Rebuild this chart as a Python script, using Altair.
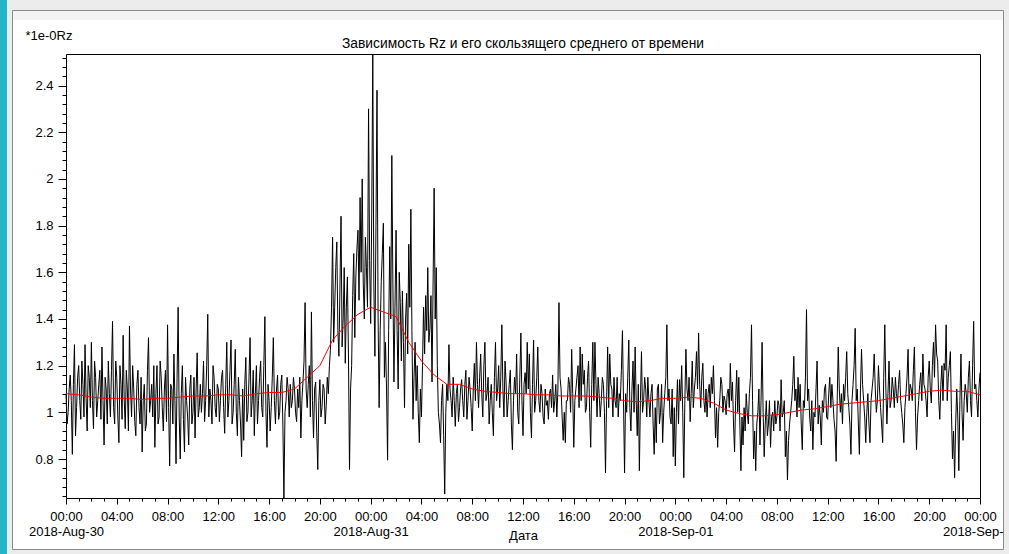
import altair as alt
import pandas as pd

# Rz readings on the 10-minute marks, 2018-08-30 00:00 .. 2018-09-02 00:00 (UTC)
rz = [
    1.08, 1.00, 1.16, 0.82, 1.29, 1.02, 1.20, 0.97, 1.12, 1.29, 0.92, 1.15,
    1.30, 0.93, 1.15, 1.05, 1.18, 1.28, 0.86, 1.10, 1.22, 0.98, 1.39, 0.95,
    1.15, 0.87, 1.12, 1.33, 0.93, 1.10, 1.37, 0.98, 1.10, 0.90, 1.18, 0.95,
    0.83, 1.12, 0.95, 1.32, 1.05, 0.98, 0.85, 1.20, 0.98, 1.15, 0.92, 1.18,
    1.375, 0.77, 1.10, 1.25, 0.78, 1.45, 0.80, 1.20, 0.83, 1.05, 0.86, 1.16,
    1.00, 0.89, 1.255, 1.02, 1.00, 1.22, 1.05, 1.42, 1.10, 0.95, 1.15, 0.98,
    1.10, 1.05, 1.18, 0.91, 1.30, 1.05, 1.31, 1.00, 1.27, 0.90, 1.05, 0.81,
    0.88, 1.235, 1.00, 1.32, 1.05, 0.90, 1.20, 1.05, 1.22, 0.98, 1.41, 0.85,
    1.05, 1.02, 1.32, 0.95, 1.16, 1.00, 1.16, 0.633, 1.05, 1.10, 1.12, 1.05,
    1.10, 0.96, 1.02, 0.89, 1.13, 1.47, 1.02, 1.20, 1.43, 0.89, 1.13, 0.755,
    1.14, 1.02, 1.10, 1.03, 1.08, 1.27, 1.75, 1.45, 1.73, 1.24, 1.84, 1.40,
    1.21, 1.58, 0.755, 1.20, 1.68, 1.58, 1.78, 1.92, 2.00, 1.40, 1.62, 2.30,
    1.38, 2.535, 1.24, 2.38, 1.02, 1.56, 1.81, 1.30, 0.795, 1.71, 2.10, 1.13,
    1.78, 1.10, 1.47, 1.52, 1.02, 1.51, 1.72, 1.87, 0.97, 1.30, 1.20, 0.87,
    0.98, 1.45, 1.50, 1.62, 1.36, 1.13, 1.96, 1.62, 1.00, 0.87, 1.12, 0.65,
    1.12, 1.29, 1.05, 1.15, 0.94, 1.12, 1.02, 1.14, 0.98, 1.18, 1.05, 1.10,
    0.92, 1.21, 1.30, 1.02, 1.25, 0.98, 1.30, 1.08, 0.95, 1.12, 0.90, 1.30,
    1.10, 1.02, 1.375, 0.98, 1.13, 1.05, 1.18, 0.84, 1.15, 1.25, 0.95, 1.34,
    0.90, 1.17, 1.30, 1.25, 0.89, 1.31, 1.05, 1.28, 1.00, 1.08, 0.95, 1.03,
    0.97, 1.10, 1.16, 1.05, 0.98, 1.47, 1.10, 0.88, 0.87, 1.05, 1.12, 1.27,
    0.85, 1.10, 1.20, 1.28, 1.25, 1.18, 1.02, 1.22, 0.85, 1.30, 1.30, 0.98,
    1.08, 1.05, 1.12, 0.74, 1.28, 1.25, 1.10, 1.15, 1.02, 0.98, 1.05, 1.35,
    0.74, 1.00, 1.31, 0.92, 1.22, 1.28, 0.90, 0.75, 1.26, 1.05, 1.10, 1.15,
    0.98, 1.12, 0.82, 0.87, 1.12, 1.00, 0.87, 1.08, 1.375, 1.10, 0.95, 0.81,
    0.77, 1.14, 1.14, 1.20, 0.72, 1.27, 1.05, 0.96, 1.22, 1.10, 1.26, 1.34,
    1.02, 1.21, 1.00, 0.98, 1.12, 1.15, 1.20, 0.89, 0.85, 1.05, 1.12, 1.07,
    0.99, 1.10, 1.21, 1.13, 0.83, 1.18, 1.15, 0.75, 0.86, 0.92, 1.00, 1.08,
    1.375, 0.80, 0.75, 1.00, 0.86, 1.30, 0.81, 1.05, 0.95, 0.85, 1.00, 1.05,
    0.98, 1.03, 1.14, 1.00, 0.81, 0.71, 0.95, 1.05, 1.24, 1.10, 1.15, 1.12,
    0.84, 1.02, 1.44, 1.10, 0.92, 0.84, 0.98, 1.22, 1.03, 0.86, 1.00, 1.12,
    0.97, 1.15, 1.12, 0.97, 0.79, 1.28, 1.00, 0.95, 1.05, 1.26, 1.02, 0.82,
    1.12, 1.36, 1.10, 0.82, 1.27, 1.05, 0.87, 1.08, 0.87, 1.10, 1.25, 1.00,
    1.20, 1.02, 0.87, 1.375, 0.95, 1.22, 1.05, 1.10, 1.15, 1.04, 1.18, 1.00,
    0.87, 1.08, 1.27, 1.12, 1.05, 1.28, 0.84, 1.05, 1.17, 1.25, 1.10, 0.98,
    1.22, 1.04, 1.30, 1.375, 1.22, 0.97, 1.20, 1.21, 1.375, 1.15, 1.26, 0.80,
    0.72, 1.10, 0.75, 1.25, 0.88, 1.12, 1.00, 1.22, 0.98, 1.39, 1.12, 0.98,
    1.17,
]

# Rz readings taken 5 minutes after each 10-minute mark (00:05, 00:15, ...)
rz_mid = [
    0.95, 1.10, 1.05, 1.12, 0.90, 1.15, 1.05, 1.22, 0.98, 1.06, 1.20, 1.02,
    1.05, 1.22, 0.98, 1.12, 0.97, 1.05, 1.15, 0.95, 1.08, 1.18, 1.02, 1.22,
    0.98, 1.20, 0.97, 1.06, 1.18, 0.92, 1.10, 1.20, 0.96, 1.12, 1.02, 1.15,
    1.05, 0.92, 1.18, 1.00, 1.12, 1.20, 1.08, 0.95, 1.22, 1.02, 1.10, 0.96,
    1.02, 1.12, 0.95, 1.05, 1.15, 0.98, 1.08, 0.97, 1.15, 0.98, 1.10, 0.95,
    1.15, 1.10, 0.98, 1.12, 1.08, 0.96, 1.20, 0.98, 1.05, 1.20, 1.02, 1.12,
    0.96, 1.15, 1.02, 1.12, 0.98, 1.18, 0.95, 1.12, 1.00, 1.15, 0.95, 1.10,
    1.12, 0.96, 1.15, 0.98, 1.18, 1.08, 0.95, 1.15, 1.02, 1.20, 1.00, 1.12,
    0.92, 1.15, 1.05, 1.10, 0.97, 1.12, 0.95, 1.00, 1.15, 0.98, 1.02, 1.15,
    1.00, 1.10, 1.15, 1.05, 1.22, 1.10, 1.12, 0.98, 1.05, 1.10, 0.92, 1.05,
    0.98, 1.12, 0.95, 1.15, 1.20, 1.45, 1.30, 1.62, 1.35, 1.55, 1.28, 1.62,
    1.45, 1.25, 1.10, 1.50, 1.32, 1.70, 1.48, 1.60, 1.55, 1.75, 1.45, 1.65,
    1.85, 1.55, 1.80, 1.42, 1.35, 1.68, 1.15, 1.10, 1.35, 1.40, 1.55, 1.45,
    1.35, 1.60, 1.22, 1.30, 1.40, 1.25, 1.45, 1.35, 1.15, 1.05, 1.00, 1.10,
    1.20, 1.25, 1.35, 1.30, 1.50, 1.55, 1.40, 1.20, 0.95, 1.05, 0.90, 1.00,
    1.05, 1.10, 0.98, 1.05, 1.08, 0.96, 1.10, 1.05, 1.12, 0.97, 1.15, 1.02,
    1.10, 1.05, 1.12, 1.15, 1.08, 1.20, 1.05, 1.15, 1.05, 1.00, 1.15, 1.05,
    1.20, 1.15, 1.10, 1.22, 0.98, 1.12, 0.95, 1.05, 1.08, 1.00, 1.15, 1.05,
    1.12, 1.08, 1.10, 1.00, 1.12, 1.00, 1.15, 1.05, 1.12, 0.98, 1.10, 1.05,
    1.08, 1.02, 1.00, 1.12, 1.10, 1.15, 0.98, 1.00, 1.05, 1.15, 1.00, 1.08,
    1.05, 1.15, 1.02, 1.05, 1.12, 1.00, 1.15, 1.00, 1.12, 1.05, 1.12, 1.15,
    0.98, 1.15, 1.00, 1.05, 1.02, 1.12, 0.98, 1.05, 1.15, 1.08, 1.18, 1.05,
    1.08, 1.15, 1.02, 1.10, 1.00, 1.05, 1.12, 1.05, 1.00, 1.15, 0.98, 1.05,
    1.08, 0.95, 1.02, 1.10, 0.95, 1.12, 1.00, 1.15, 1.05, 0.98, 1.10, 1.02,
    1.00, 0.95, 1.05, 1.00, 1.05, 1.10, 1.15, 1.08, 1.02, 1.15, 1.10, 1.12,
    1.15, 1.05, 1.10, 1.08, 1.02, 1.08, 1.05, 1.02, 1.00, 1.15, 1.00, 1.05,
    1.08, 1.02, 1.05, 0.95, 1.05, 1.00, 0.95, 0.98, 1.02, 1.08, 0.95, 1.15,
    1.05, 0.92, 0.95, 1.10, 1.05, 1.00, 0.95, 0.90, 1.05, 0.98, 0.92, 0.95,
    1.05, 0.92, 0.98, 1.05, 0.92, 0.88, 1.00, 1.12, 1.05, 0.98, 1.02, 0.95,
    1.05, 1.15, 1.05, 0.98, 1.05, 1.00, 1.10, 0.95, 0.98, 1.05, 1.10, 0.98,
    1.08, 1.02, 1.05, 0.92, 1.05, 1.10, 1.08, 1.12, 1.15, 1.08, 0.95, 1.05,
    1.20, 1.05, 0.95, 1.10, 1.12, 0.98, 1.00, 0.95, 1.05, 1.15, 1.10, 1.05,
    1.10, 0.95, 1.15, 1.10, 1.08, 1.02, 1.15, 1.02, 1.08, 1.12, 1.05, 0.95,
    1.02, 1.15, 1.05, 1.10, 1.18, 1.00, 0.98, 1.12, 1.05, 1.12, 1.05, 1.15,
    1.10, 1.20, 1.15, 1.25, 1.05, 1.12, 1.05, 1.18, 1.05, 1.20, 1.00, 0.92,
    0.95, 0.98, 1.05, 1.00, 1.05, 1.08, 1.15, 1.05, 1.20, 1.10, 1.05, 1.10,
]

# Moving average of Rz, hourly over the same period
rz_avg = [
    1.08, 1.075, 1.065, 1.06, 1.06, 1.06, 1.055, 1.06, 1.06, 1.065,
    1.07, 1.07, 1.075, 1.075, 1.07, 1.08, 1.085, 1.085, 1.10, 1.15,
    1.20, 1.31, 1.37, 1.42, 1.45, 1.43, 1.41, 1.30, 1.22, 1.16,
    1.12, 1.12, 1.10, 1.09, 1.085, 1.08, 1.08, 1.075, 1.075, 1.07,
    1.07, 1.07, 1.065, 1.06, 1.05, 1.045, 1.05, 1.06, 1.06, 1.065,
    1.06, 1.04, 1.01, 0.995, 0.985, 0.985, 0.99, 1.00, 1.01, 1.015,
    1.025, 1.035, 1.04, 1.045, 1.05, 1.06, 1.07, 1.08, 1.09, 1.095,
    1.09, 1.09, 1.075,
]

TITLE = "Зависимость Rz и его скользящего среднего от времени"
Y_TITLE = "*1e-0Rz"
X_TITLE = "Дата"
FONT = "Liberation Sans"

t0 = pd.Timestamp("2018-08-30 00:00", tz="UTC")


def iso(ts):
    return ts.strftime("%Y-%m-%dT%H:%M:%SZ")


# merge the two reading sets into one 5-minute series
times, values = [], []
for k, v in enumerate(rz):
    times.append(iso(t0 + pd.Timedelta(minutes=10 * k)))
    values.append(v)
    if k < len(rz_mid):
        times.append(iso(t0 + pd.Timedelta(minutes=10 * k + 5)))
        values.append(rz_mid[k])
raw = pd.DataFrame({"t": times, "v": values})

avg = pd.DataFrame({
    "t": [iso(t0 + pd.Timedelta(hours=i)) for i in range(len(rz_avg))],
    "v": rz_avg,
})

# hourly ticks (labelled every 4 h), y ticks every 0.04 (labelled every 0.2)
t0_ms = int(t0.value // 10**6)
hour_ticks = [t0_ms + 3_600_000 * h for h in range(73)]
y_ticks = [round(0.64 + 0.04 * i, 2) for i in range(48)]

x_axis = alt.Axis(
    values=hour_ticks,
    title=X_TITLE,
    titleFont=FONT, titleFontSize=13, titleFontWeight="normal", titleColor="black",
    titleBaseline="middle", titleY=37,
    labelExpr=(
        "utchours(datum.value) % 4 != 0 ? '' : "
        "(utchours(datum.value) == 0 ? "
        "[utcFormat(datum.value, '%H:%M'), utcFormat(datum.value, '%Y-%b-%d')] : "
        "utcFormat(datum.value, '%H:%M'))"
    ),
    labelFont=FONT, labelFontSize=13, labelColor="black", labelLineHeight=15,
    labelOverlap=False, labelFlush=False, labelPadding=6,
    tickSize={"condition": {"test": "utchours(datum.value) % 4 == 0", "value": 6}, "value": 3},
    tickColor="black", domain=False, grid=False,
)
y_axis = alt.Axis(
    values=y_ticks,
    title=Y_TITLE,
    titleFont=FONT, titleFontSize=13, titleFontWeight="normal", titleColor="black",
    titleAngle=0, titleAlign="left", titleBaseline="middle", titleX=-41, titleY=-19,
    labelExpr="abs(datum.value * 5 - round(datum.value * 5)) < 0.001 ? format(datum.value, '~g') : ''",
    labelFont=FONT, labelFontSize=13, labelColor="black",
    labelOverlap=False, labelFlush=False, labelPadding=5,
    tickSize={"condition": {"test": "abs(datum.value * 5 - round(datum.value * 5)) < 0.001", "value": 8}, "value": 4},
    tickColor="black", domain=False, grid=False,
)

x_enc = alt.X("t:T", scale=alt.Scale(type="utc", nice=False), axis=x_axis)
y_enc = alt.Y("v:Q", scale=alt.Scale(zero=False, nice=False), axis=y_axis)

raw_line = alt.Chart(raw).mark_line(color="black", strokeWidth=1).encode(x=x_enc, y=y_enc)
avg_line = alt.Chart(avg).mark_line(color="#ff0000", strokeWidth=1).encode(x=x_enc, y=y_enc)

# window chrome around the plot (pixel offsets from the plot's top-left corner)
one = pd.DataFrame({"k": [0]})


def band(x0, x1, y0, y1, color):
    return alt.Chart(one).mark_rect(color=color, strokeWidth=0).encode(
        x=alt.value(x0), x2=alt.value(x1), y=alt.value(y0), y2=alt.value(y1)
    )


chrome = [
    band(-59, 943, -54, -44, "#ececec"),   # top strip
    band(-59, -54, -54, 500, "#ececec"),   # left strip
    band(938, 943, -54, 500, "#ececec"),   # right strip
    band(-59, 943, 495, 500, "#ececec"),   # bottom strip
    band(-53, 937, -43, -34, "#f3f3f3"),   # panel header band
    band(-66, -59, -54, 500, "#24b6c8"),   # teal edge
    alt.Chart(one).mark_rect(fillOpacity=0, stroke="#8a8a8a", strokeWidth=1).encode(
        x=alt.value(-53.5), x2=alt.value(937.5), y=alt.value(-43.5), y2=alt.value(495.5)
    ),
]

chart = alt.layer(raw_line, avg_line, *chrome).properties(
    width=914,
    height=444,
    title=alt.TitleParams(
        TITLE, font=FONT, fontSize=13.8, fontWeight="normal", color="black",
        anchor="middle", frame="group", offset=0, dy=51,
    ),
    background="white",
    padding={"left": 66, "top": 54, "right": 29, "bottom": 56},
    autosize=alt.AutoSizeParams(type="none"),
).configure_view(stroke="black", strokeWidth=1, fill="white")

chart.save("out.html", embed_options={"renderer": "svg", "actions": False})
